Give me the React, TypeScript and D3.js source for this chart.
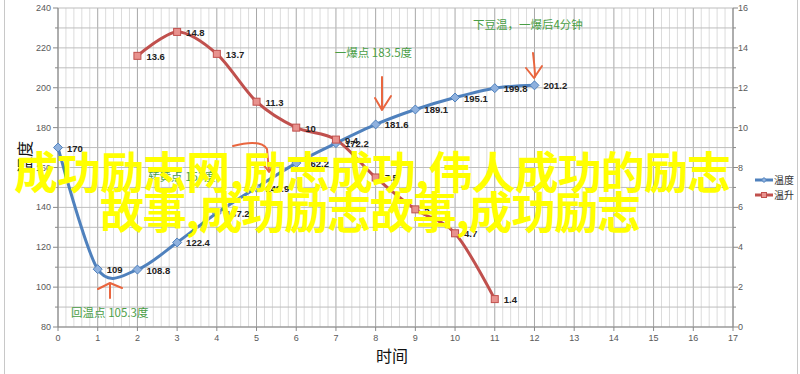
import React from "react";
import * as d3 from "d3";

const timeTicks = d3.range(0, 18);
const tempHours = [0, 1, 2, 3, 4, 5, 6, 7, 8, 9, 10, 11, 12];
const tempValues = [170, 109, 108.8, 122.4, 137.2, 149.9, 162.2, 172.2, 181.6, 189.1, 195.1, 199.8, 201.2];
const riseHours = [2, 3, 4, 5, 6, 7, 8, 9, 10, 11];
const riseValues = [13.6, 14.8, 13.7, 11.3, 10, 9.4, 7.5, 5.9, 4.7, 1.4];
const leftTicks = [80, 100, 120, 140, 160, 180, 200, 220, 240];
const rightTicks = [0, 2, 4, 6, 8, 10, 12, 14, 16];
const seriesNames = ["温度", "温升"];
const notes = [
  { text: "转黄点 153度", t: 2.27, v: 155 },
  { text: "回温点 105.3度", t: 0.33, v: 86.8 },
  { text: "一爆点 183.5度", t: 6.97, v: 217.5 },
  { text: "下豆温，一爆后4分钟", t: 10.45, v: 231.5 },
];
const watermark = ["成功励志网,励志成功,伟人成功的励志", "故事,成功励志故事,成功励志"];

const W = 800, H = 374;
const x = d3.scaleLinear().domain([0, 17]).range([58, 733]);
const yL = d3.scaleLinear().domain([80, 240]).range([327, 8]);
const yR = d3.scaleLinear().domain([0, 16]).range([327, 8]);

const BLUE = "#4f81bd";
const RED = "#c0504d";
const GREEN = "#4a9e46";
const ORANGE = "#e9663f";
const SANS = "'Liberation Sans', Arial, sans-serif";
const CJK = "'Noto Sans CJK SC', sans-serif";

export default function App() {
  const tempLine = d3
    .line<number>()
    .x((_, i) => x(tempHours[i]))
    .y((d) => yL(d))
    .curve(d3.curveCardinal.tension(0.1));
  const riseLine = d3
    .line<number>()
    .x((_, i) => x(riseHours[i]))
    .y((d) => yR(d))
    .curve(d3.curveCardinal.tension(0.1));

  const minorX = d3.range(0, 17.001, 0.2);
  const hGrid = d3.range(80, 241, 10);

  return (
    <svg width={W} height={H} style={{ position: "absolute", left: 0, top: 0, background: "#fff" }}>
      <rect x={0} y={0} width={W} height={H} fill="#fff" />
      <rect x={4.5} y={-2} width={793} height={380} fill="none" stroke="#c8c8c8" />
      {/* grid */}
      {minorX.map((t, i) => (
        <line key={"mx" + i} x1={x(t)} x2={x(t)} y1={8} y2={327} stroke={Math.abs(t - Math.round(t)) < 1e-6 ? "#a8a8a8" : "#dcdcdc"} strokeWidth={1} />
      ))}
      {hGrid.map((v) => (
        <line key={"h" + v} x1={58} x2={733} y1={yL(v)} y2={yL(v)} stroke="#bdbdbd" />
      ))}
      {/* axes */}
      <line x1={58} x2={58} y1={8} y2={327} stroke="#888" />
      <line x1={733} x2={733} y1={8} y2={327} stroke="#888" />
      <line x1={58} x2={733} y1={327} y2={327} stroke="#888" />
      {d3.range(80, 241, 10).map((v) => (
        <line key={"lt" + v} x1={v % 20 === 0 ? 53 : 55} x2={58} y1={yL(v)} y2={yL(v)} stroke="#888" />
      ))}
      {d3.range(0, 17, 1).map((v) => (
        <line key={"rt" + v} x1={733} x2={v % 2 === 0 ? 738 : 736} y1={yR(v)} y2={yR(v)} stroke="#888" />
      ))}
      {timeTicks.map((t) => (
        <line key={"xt" + t} x1={x(t)} x2={x(t)} y1={327} y2={331} stroke="#888" />
      ))}
      {leftTicks.map((v) => (
        <text key={"ll" + v} x={51} y={yL(v) + 3} textAnchor="end" fontSize={9} fontFamily={SANS} fill="#595959">{v}</text>
      ))}
      {rightTicks.map((v) => (
        <text key={"rl" + v} x={738} y={yR(v) + 3} textAnchor="start" fontSize={9} fontFamily={SANS} fill="#595959">{v}</text>
      ))}
      {timeTicks.map((t) => (
        <text key={"xl" + t} x={x(t)} y={341} textAnchor="middle" fontSize={9} fontFamily={SANS} fill="#595959">{t}</text>
      ))}
      <text x={392} y={362} textAnchor="middle" fontSize={16} fontFamily={CJK} fill="#111">时间</text>
      <text transform="translate(31,157) rotate(-90)" textAnchor="middle" fontSize={16} fontFamily={CJK} fill="#111">温度</text>

      {/* series */}
      <path d={tempLine(tempValues) || ""} fill="none" stroke={BLUE} strokeWidth={3} strokeLinecap="round" />
      <path d={riseLine(riseValues) || ""} fill="none" stroke={RED} strokeWidth={3} strokeLinecap="round" />
      {tempValues.map((v, i) => {
        const cx = x(tempHours[i]), cy = yL(v);
        return (
          <path key={"tm" + i} d={`M${cx},${cy - 4.5}L${cx + 4.5},${cy}L${cx},${cy + 4.5}L${cx - 4.5},${cy}Z`} fill="#8fb1de" stroke={BLUE} strokeWidth={1} />
        );
      })}
      {riseValues.map((v, i) => {
        const cx = x(riseHours[i]), cy = yR(v);
        return <rect key={"rm" + i} x={cx - 3.5} y={cy - 3.5} width={7} height={7} fill="#e8928e" stroke={RED} strokeWidth={1} />;
      })}
      {tempValues.map((v, i) => (
        <text key={"tl" + i} x={x(tempHours[i]) + 9} y={yL(v) + 4} fontSize={9.5} fontWeight="bold" fontFamily={SANS} fill="#222">{v}</text>
      ))}
      {riseValues.map((v, i) => (
        <text key={"rl2" + i} x={x(riseHours[i]) + 9} y={yR(v) + 4} fontSize={9.5} fontWeight="bold" fontFamily={SANS} fill="#222">{v}</text>
      ))}

      {/* annotations */}
      {notes.map((n) => (
        <text key={n.text} x={x(n.t)} y={yL(n.v) + 4} fontSize={11.5} fontFamily={CJK} fill={GREEN}>{n.text}</text>
      ))}
      <g fill="none" stroke={ORANGE} strokeWidth={2} strokeLinecap="round" strokeLinejoin="round">
        <path d="M110,298 L110,284 M98,289 L110,283 L122,288" />
        <path d="M233,146 C248,142 262,141 267,149 L269,171 M263,164 L269,172 L275,163" />
        <path d="M382,77 L382,109 M375,98 L382,110 L391,96" />
        <path d="M533,53 C534,62 535,70 535,77 M526,68 L534,78 L542,66" />
      </g>

      {/* legend */}
      <line x1={755} x2={773} y1={180} y2={180} stroke={BLUE} strokeWidth={3} />
      <path d="M764,177.5L766.5,180L764,182.5L761.5,180Z" fill="#8fb1de" stroke={BLUE} />
      <text x={774} y={183.5} fontSize={10} fontFamily={CJK} fill="#333">{seriesNames[0]}</text>
      <line x1={755} x2={773} y1={195} y2={195} stroke={RED} strokeWidth={3} />
      <rect x={761.5} y={192.5} width={5} height={5} fill="#e8928e" stroke={RED} />
      <text x={774} y={198.5} fontSize={10} fontFamily={CJK} fill="#333">{seriesNames[1]}</text>

      {/* watermark */}
      <text x={14} y={189} fontSize={44} fontWeight="bold" fontFamily={CJK} fill="#ffff00" textLength={717} lengthAdjust="spacing">{watermark[0]}</text>
      <text x={100} y={229} fontSize={44} fontWeight="bold" fontFamily={CJK} fill="#ffff00" textLength={541} lengthAdjust="spacing">{watermark[1]}</text>
    </svg>
  );
}
